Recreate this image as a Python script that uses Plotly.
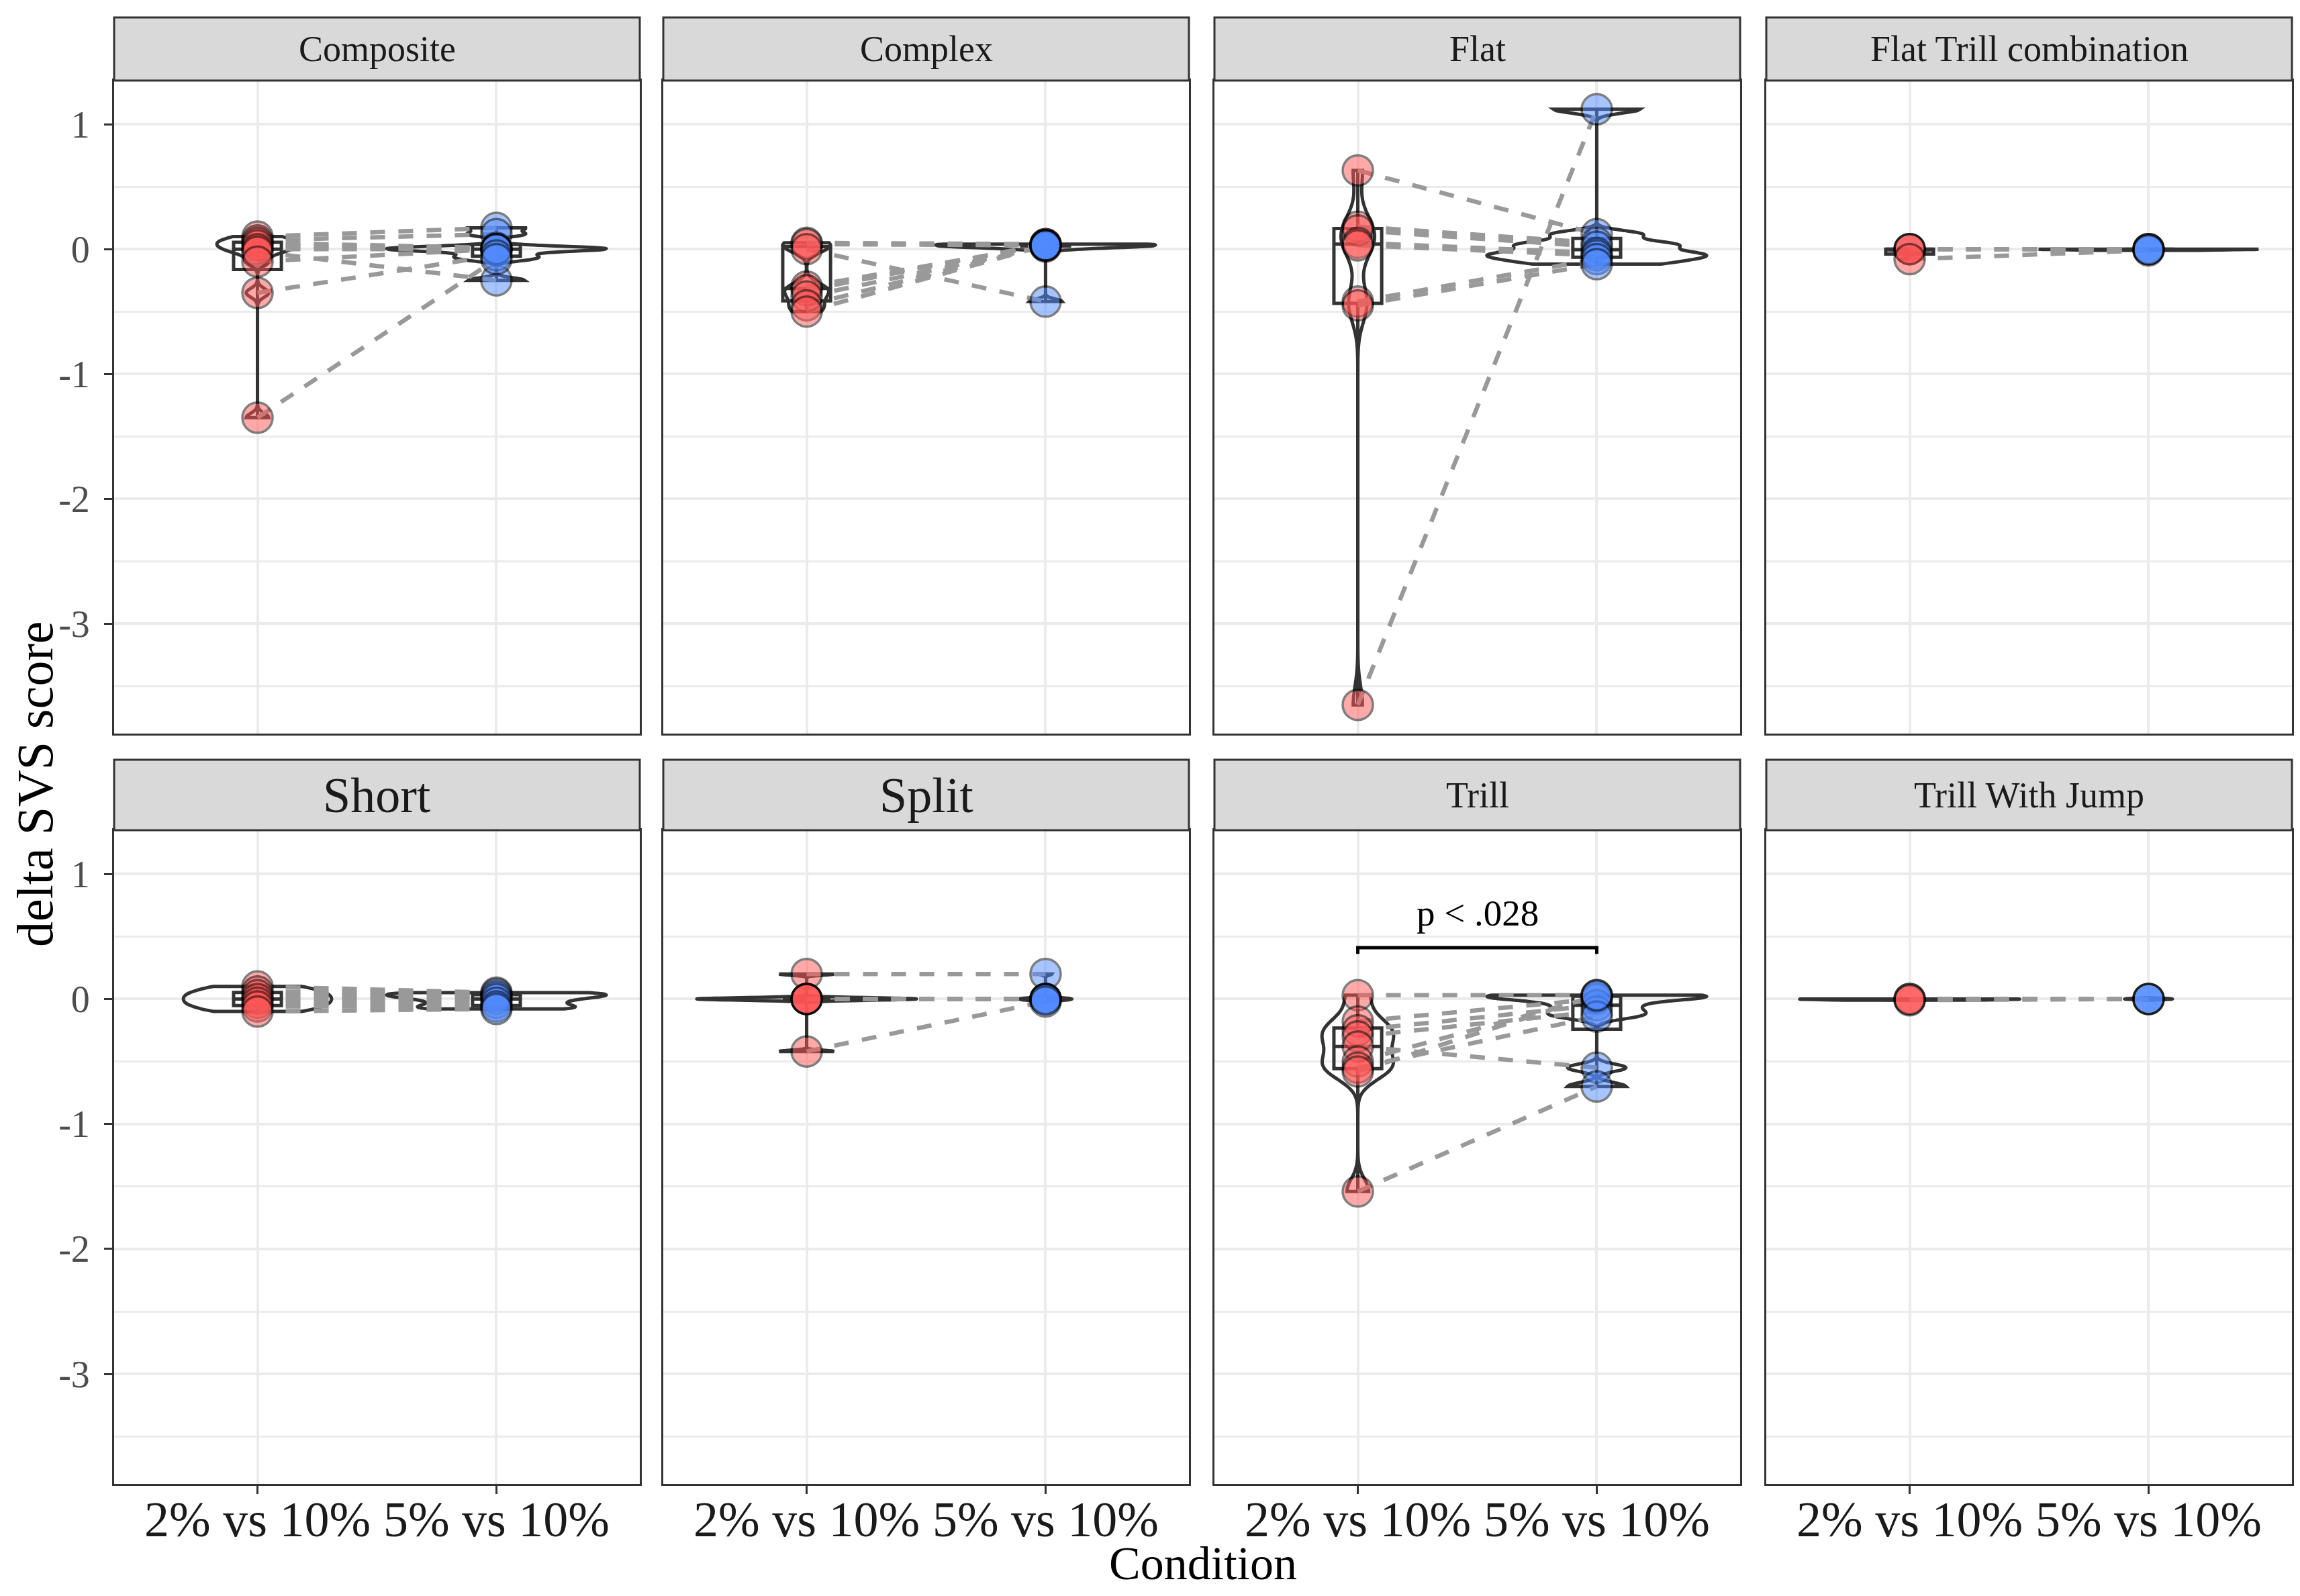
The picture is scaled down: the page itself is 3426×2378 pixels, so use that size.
import plotly.graph_objects as go
from plotly.subplots import make_subplots

conditions = ["2% vs 10%", "5% vs 10%"]
panels = ["Composite", "Complex", "Flat", "Flat Trill combination",
          "Short", "Split", "Trill", "Trill With Jump"]

# paired delta SVS scores (same index = same subject)
composite_2 = [0.10, 0.07, 0.05, 0.03, 0.00, -0.02, -0.10, -0.35, -1.35]
composite_5 = [0.17, 0.12, 0.01, 0.00, 0.00, -0.25, 0.00, -0.05, -0.08]
complex_2 = [0.05, 0.04, 0.00, -0.30, -0.33, -0.38, -0.45, -0.50]
complex_5 = [0.04, 0.03, -0.42, 0.03, 0.04, 0.02, 0.03, 0.03]
flat_2 = [0.63, 0.18, 0.15, 0.05, 0.03, -0.42, -0.45, -3.65]
flat_5 = [0.12, 0.05, 0.02, -0.03, -0.05, -0.08, -0.12, 1.12]
flat_trill_2 = [0.00, 0.00, 0.00, -0.08]
flat_trill_5 = [0.00, 0.00, 0.00, -0.01]
short_2 = [0.10, 0.06, 0.03, 0.00, -0.03, -0.06, -0.10]
short_5 = [0.05, 0.04, 0.02, 0.00, -0.03, -0.06, -0.08]
split_2 = [0.20, 0.00, 0.00, 0.00, 0.00, -0.42]
split_5 = [0.20, 0.00, 0.00, 0.00, 0.00, -0.02]
trill_2 = [0.03, -0.18, -0.25, -0.30, -0.38, -0.50, -0.55, -0.58, -1.54]
trill_5 = [0.03, 0.00, -0.05, -0.10, -0.55, 0.02, -0.14, 0.03, -0.70]
trill_jump_2 = [0.00, 0.00, -0.01]
trill_jump_5 = [0.00, 0.00, 0.00]

y_tick_vals = [-3, -2, -1, 0, 1]
y_tick_text = ["-3", "-2", "-1", "0", "1"]

p_label = "p < .028"
p_panel = "Trill"

data = {
    "Composite": (composite_2, composite_5),
    "Complex": (complex_2, complex_5),
    "Flat": (flat_2, flat_5),
    "Flat Trill combination": (flat_trill_2, flat_trill_5),
    "Short": (short_2, short_5),
    "Split": (split_2, split_5),
    "Trill": (trill_2, trill_5),
    "Trill With Jump": (trill_jump_2, trill_jump_5),
}

# violin look (max width, bandwidth) per panel and condition
violin_style = {
    "Composite": ((0.34, 0.035), (0.92, 0.02)),
    "Complex": ((0.2, 0.05), (0.92, 0.02)),
    "Flat": ((0.14, 0.15), (0.92, 0.03)),
    "Flat Trill combination": ((0.2, 0.01), (0.92, 0.005)),
    "Short": ((0.62, 0.03), (0.92, 0.02)),
    "Split": ((0.92, 0.01), (0.22, 0.01)),
    "Trill": ((0.3, 0.1), (0.92, 0.03)),
    "Trill With Jump": ((0.92, 0.005), (0.2, 0.005)),
}

fill_colors = ["#FF5555", "#508AFF"]
font = "Liberation Serif, Times New Roman, serif"
dark = "#333333"

# the page body adds an 8px margin, so the figure is drawn a bit smaller
OFF = 8
W, H = 3426 - 2 * OFF, 2378 - 2 * OFF


def px(x):
    return (x - OFF) / W


def py(y):
    return 1 - (y - OFF) / H


col_left = [170, 988, 1809, 2631]
panel_w = 783
rows_px = [(26, 120, 1093), (1132, 1237, 2211)]  # strip top, plot top, plot bottom
strip_size = {"Short": 74, "Split": 74}

fig = make_subplots(rows=2, cols=4)

for k, panel in enumerate(panels):
    r, c = k // 4 + 1, k % 4 + 1
    vals = data[panel]
    for j, cond in enumerate(conditions):
        vw, bw = violin_style[panel][j]
        same = min(vals[j]) == max(vals[j])
        fig.add_trace(go.Violin(
            x0=cond, y=vals[j], width=vw, bandwidth=bw, scalemode="width",
            scalegroup=f"{panel}{j}", spanmode="soft" if same else "hard",
            points=False, fillcolor="rgba(0,0,0,0)",
            line=dict(color=dark, width=5), hoverinfo="skip",
            showlegend=False), row=r, col=c)
        fig.add_trace(go.Box(
            x0=cond, y=vals[j], width=0.2, boxpoints=False, whiskerwidth=0,
            fillcolor="rgba(0,0,0,0)", line=dict(color=dark, width=5),
            showlegend=False), row=r, col=c)

    xs, ys = [], []
    for a, b in zip(vals[0], vals[1]):
        xs += [conditions[0], conditions[1], None]
        ys += [a, b, None]
    fig.add_trace(go.Scatter(x=xs, y=ys, mode="lines",
                             line=dict(color="#999999", width=6.5, dash="22px,20px"),
                             showlegend=False), row=r, col=c)

    if panel == p_panel:
        top = 0.41
        fig.add_trace(go.Scatter(
            x=[conditions[0], conditions[0], conditions[1], conditions[1]],
            y=[top - 0.05, top, top, top - 0.05], mode="lines",
            line=dict(color="black", width=5), showlegend=False), row=r, col=c)
        fig.add_annotation(x=0.5, y=top + 0.1, text=p_label, showarrow=False,
                           xanchor="center", yanchor="bottom",
                           font=dict(family=font, size=55, color="black"),
                           row=r, col=c)

    for j, cond in enumerate(conditions):
        fig.add_trace(go.Scatter(
            x=[cond] * len(vals[j]), y=vals[j], mode="markers",
            marker=dict(size=45, color=fill_colors[j], opacity=0.5,
                        line=dict(color="black", width=3.5)),
            showlegend=False), row=r, col=c)

    # layout of this panel
    st, pt, pb = rows_px[r - 1]
    x0 = col_left[c - 1]
    xa = "xaxis" if k == 0 else f"xaxis{k + 1}"
    ya = "yaxis" if k == 0 else f"yaxis{k + 1}"
    fig.layout[xa].update(
        domain=[px(x0), px(x0 + panel_w)], range=[-0.6, 1.6],
        type="category", categoryorder="array", categoryarray=conditions,
        showgrid=True, gridcolor="#ebebeb", gridwidth=4,
        showline=True, mirror=True, linecolor=dark, linewidth=3,
        ticks="outside" if r == 2 else "", ticklen=12, tickwidth=3, tickcolor=dark,
        showticklabels=(r == 2), ticklabelstandoff=-26,
        tickfont=dict(family=font, size=74, color="#1a1a1a"), zeroline=False)
    fig.layout[ya].update(
        domain=[py(pb), py(pt)], range=[-3.88, 1.35],
        tickvals=y_tick_vals, ticktext=y_tick_text,
        showgrid=True, gridcolor="#ebebeb", gridwidth=4,
        minor=dict(tick0=0.5, dtick=1, showgrid=True, gridcolor="#ebebeb", gridwidth=2.5),
        showline=True, mirror=True, linecolor=dark, linewidth=3,
        ticks="outside" if c == 1 else "", ticklen=12, tickwidth=3, tickcolor=dark,
        showticklabels=(c == 1), ticklabelstandoff=10,
        tickfont=dict(family=font, size=56, color="#4d4d4d"), zeroline=False)

    # facet strip
    fig.add_shape(type="rect", xref="paper", yref="paper",
                  x0=px(x0), x1=px(x0 + panel_w), y0=py(pt), y1=py(st),
                  fillcolor="#d9d9d9", line=dict(color=dark, width=3), layer="above")
    fig.add_annotation(xref="paper", yref="paper", x=px(x0 + panel_w / 2),
                       y=py((st + pt) / 2), text=panel, showarrow=False,
                       xanchor="center", yanchor="middle",
                       font=dict(family=font, size=strip_size.get(panel, 54), color="#1a1a1a"))

fig.add_annotation(xref="paper", yref="paper", x=0, y=py(1169),
                   text="delta SVS score", textangle=-90, showarrow=False,
                   xanchor="left", yanchor="middle",
                   font=dict(family=font, size=76, color="black"))
fig.add_annotation(xref="paper", yref="paper", x=px(1792), y=0,
                   text="Condition", showarrow=False,
                   xanchor="center", yanchor="bottom",
                   font=dict(family=font, size=70, color="black"))

fig.update_layout(width=W, height=H, margin=dict(l=0, r=0, t=0, b=0),
                  plot_bgcolor="white", paper_bgcolor="white",
                  violinmode="overlay", boxmode="overlay", showlegend=False,
                  font=dict(family=font))

fig.write_html("out.html")
